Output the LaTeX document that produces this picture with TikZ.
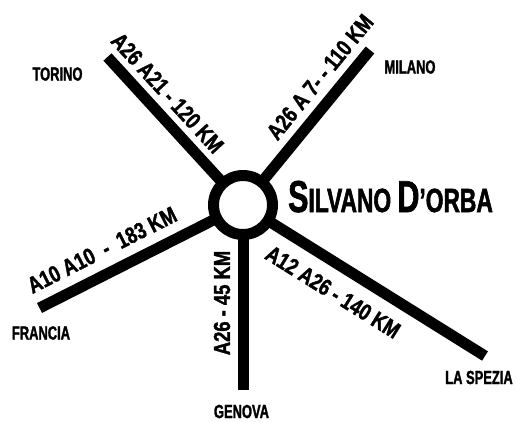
\documentclass[tikz,border=0pt]{standalone}
\usepackage{fontspec}
\newfontfamily\cityfont[FakeStretch=0.68,FakeBold=1.5]{Liberation Sans Bold}
\newfontfamily\roadfont[FakeStretch=0.8,FakeBold=1.5]{Liberation Sans Bold}
\begin{document}
\begin{tikzpicture}[x=1pt,y=-1pt,
  road/.style={line width=11pt,line cap=butt},
  ring/.style={circle,draw,line width=11pt,fill=white,minimum size=59pt,inner sep=0pt},
  city/.style={font=\cityfont\fontsize{19}{19}\selectfont,inner sep=0pt,anchor=center},
  rlabel/.style={font=\roadfont\fontsize{23}{23}\selectfont,inner sep=0pt,anchor=center},
  title/.style={font=\cityfont,inner sep=0pt,anchor=base west}]
\useasboundingbox (0,0) rectangle (517,421);
\coordinate (hub) at (243,205);
\coordinate (etorino) at (107.5,57);
\coordinate (emilano) at (370,50);
\coordinate (efrancia) at (39.5,308);
\coordinate (egenova) at (243,390);
\coordinate (espezia) at (485,356);
\draw[road] (hub) -- (etorino);
\draw[road] (hub) -- (emilano);
\draw[road] (hub) -- (efrancia);
\draw[road] (hub) -- (egenova);
\draw[road] (hub) -- (espezia);
\node[ring] (c) at (hub) {};
\node[city] (torino) at (57.5,74) {TORINO};
\node[city] (milano) at (410,67) {MILANO};
\node[city] (francia) at (41,333) {FRANCIA};
\node[city] (genova) at (241.5,411.5) {GENOVA};
\node[city] (spezia) at (479,377.5) {LA SPEZIA};
\node[rlabel,rotate=-47.5] (ltorino) at (167.5,93) {A26 A21 - 120 KM};
\node[rlabel,rotate=50.7] (lmilano) at (320,77) {A26 A 7- - 110 KM};
\node[rlabel,rotate=26.8] (lfrancia) at (102,250) {A10 A10\ \ -\ \ 183 KM};
\node[rlabel,rotate=90] (lgenova) at (222,303) {A26 - 45 KM};
\node[rlabel,rotate=-32] (lspezia) at (333,292) {A12 A26 - 140 KM};
\node[title] (silvano) at (288,212) {\fontsize{44.7}{44.7}\selectfont S\fontsize{33.5}{33.5}\selectfont ILVANO \fontsize{44.7}{44.7}\selectfont D\fontsize{33.5}{33.5}\selectfont ’ORBA};
\end{tikzpicture}
\end{document}
